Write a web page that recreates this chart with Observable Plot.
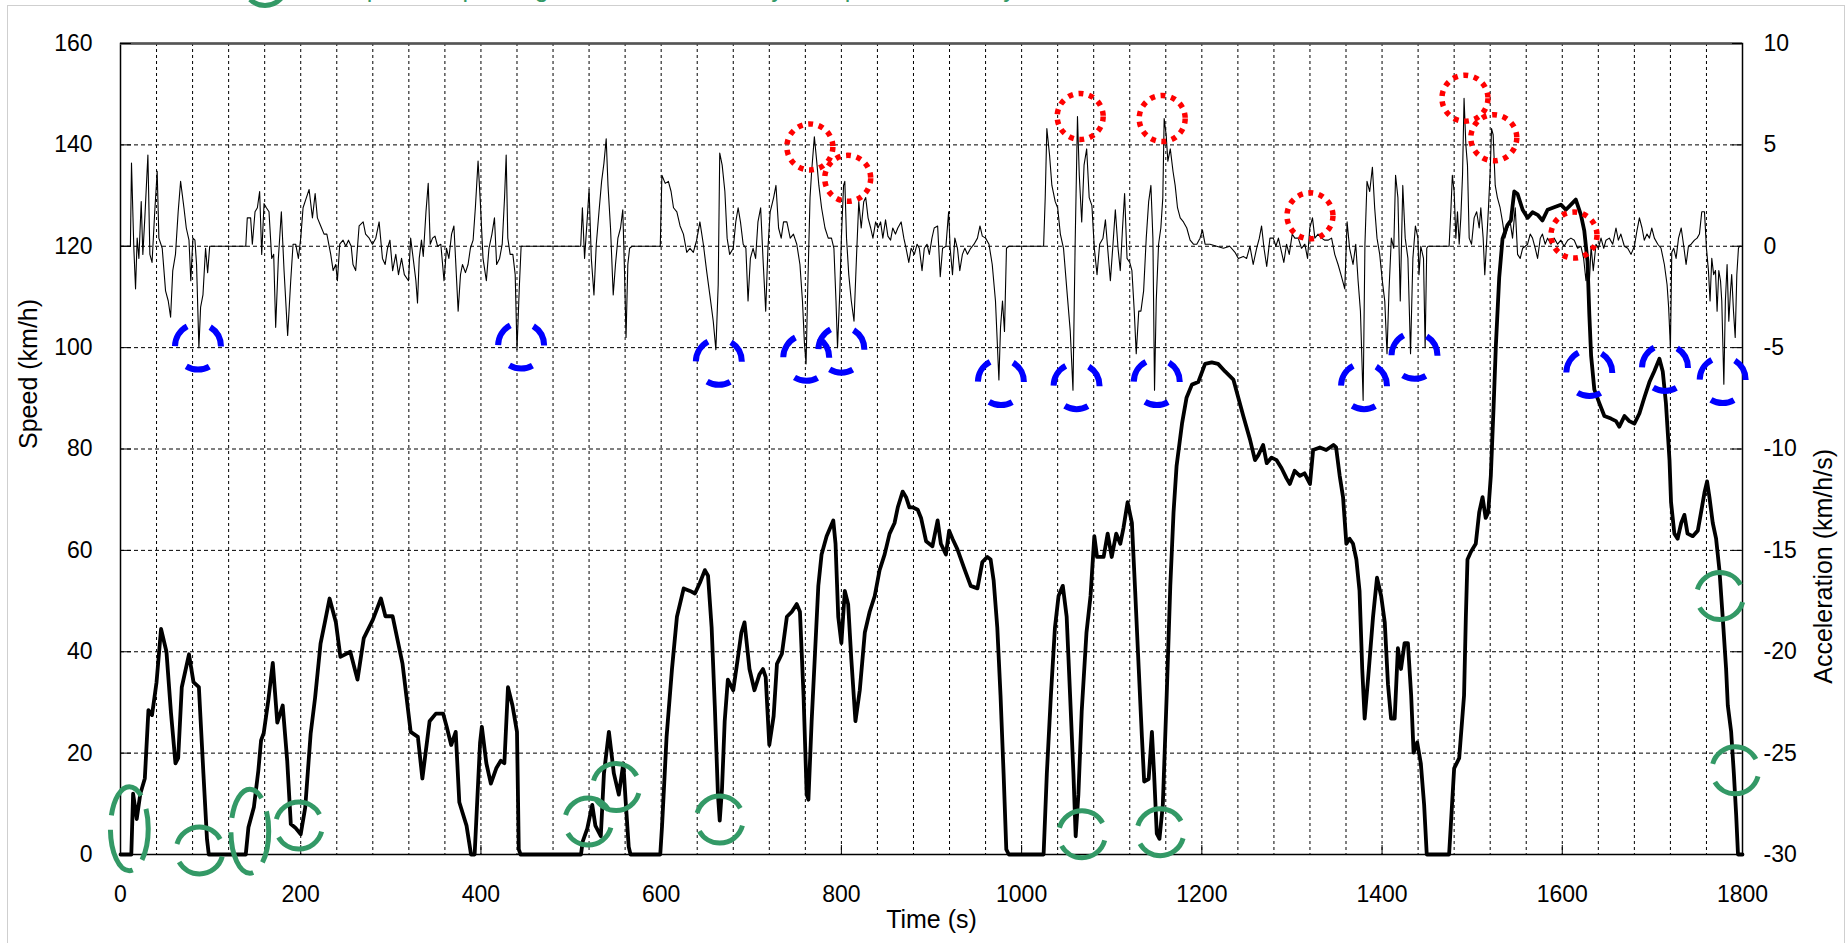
<!DOCTYPE html>
<html><head><meta charset="utf-8">
<script src="https://cdn.jsdelivr.net/npm/d3@7"></script>
<script src="https://cdn.jsdelivr.net/npm/@observablehq/plot@0.6"></script>
<style>
html,body{margin:0;padding:0;background:#fff;overflow:hidden}
#wrap{position:relative;width:1847px;height:943px;overflow:hidden;font-family:"Liberation Sans",Arial,sans-serif}
#border{position:absolute;left:7px;top:5px;width:1838px;height:1000px;border:1.5px solid #cfcfcf;box-sizing:border-box}
#chart{position:absolute;left:0;top:0}
#head{position:absolute;left:0;top:0;display:block}
</style></head><body>
<div id="wrap"><div id="border"></div><div id="chart"></div>
<svg id="head" width="1847" height="24"></svg></div>
<script>
// ---- data ----
const timeTicks = [0, 200, 400, 600, 800, 1000, 1200, 1400, 1600, 1800];
const speedTicks = [0, 20, 40, 60, 80, 100, 120, 140, 160];
const accTicks = [-30, -25, -20, -15, -10, -5, 0, 5, 10];
const xTitle = "Time (s)";
const yTitle = "Speed (km/h)";
const y2Title = "Acceleration (km/h/s)";
const headText = "Low-speed stop-and-go events identified by the speed trace only";

// speed trace [time s, speed km/h]
const speedPoints = [[0,0],[12,0],[14,12],[18,7],[22,12],[27,15],[31,28.5],[35,27.5],[40,34],[45,44.5],[51,40],[56,28],[61,18],[64,19],[68,33],[76,39.5],[81,34],[87,33],[92,16],[96,3],[98,0],
[139,0],[142,5.4],[148,9.3],[153,16.6],[156,22.5],[159,24],[164,30.4],[169,37.8],[174,26],[180,29.4],[185,18.5],[189,6],[194,5.3],[200,4],[205,9.3],[211,23.8],[216,31],[222,41.6],[227,46],[232,50.5],[239,45.8],[244,39],[255,40],[263,34.5],[270,42.7],[280,46.3],[289,50.5],[294,47],[302,47],[313,37.6],[322,24.2],[330,23.2],[335,15],[343,26.3],[350,27.8],[358,27.8],[362,25.2],[367,21.6],[372,24.2],[376,10.3],[384,5.7],[389,0],[393,0],[399,22],[401,25.2],[406,18],[411,14],[417,17],[422,18.5],[426,18],[430,33],[435,29.4],[440,24.2],[442,1],[444,0],
[511,0],[513,2.6],[518,5.1],[523.5,9.8],[527,5.7],[533,3.6],[536.5,16],[542,24.2],[547.5,16],[553,11.8],[558,18],[560.5,10.8],[564,1.5],[566,0],
[599,0],[601,5.7],[606,23.2],[612,36.6],[617.5,46.9],[625,52.5],[632,52],[637.5,51.5],[643,53.6],[648.5,56.1],[652,55],[656,44.8],[659.5,29.4],[663,11.8],[665,6.7],[667.5,12.9],[670.5,26.3],[674,34.5],[680,32.4],[685,38.6],[689,43.8],[692.5,45.8],[698,36.6],[703.5,32.4],[709,35.5],[713,36.6],[716,35],[720,21.6],
[724.8,27.3],[728.5,37.6],[734,39.6],[739.5,46.9],[745,47.9],[750.5,49.4],[754,47.9],[758,31.4],[761.5,11.8],[763.4,10.8],[767,26.3],[770.7,39.6],[774.4,53],[778,59.2],[783.6,62.8],[791,65.9],[793.5,61.3],[796.5,46.9],[800,41.7],[803.8,52],[807.5,49.4],[811,38.6],[815.6,26.3],[820.4,32.4],[826,43.8],[831.4,47.9],[837,51],[842.4,56.1],[848,59.2],[853.5,63.3],[859,65.4],[862.6,68.5],[868,71.6],[871.8,70.5],[875.5,68.5],[879,68.5],[884.7,68],[888.4,66.4],[894,61.8],[901,60.8],[906.8,65.9],[910.4,61.3],[916,59.2],[919.6,63.9],[923.3,62.3],[928.8,60.2],[936,56.6],[943.5,53],[951,52.5],[956.4,57.7],[962,58.7],[965.6,58.2],[969,54],[973,44.8],[976.6,31.4],[980,16],[983,1],[985.8,0],
[1024.4,0],[1028,16],[1032.5,31.4],[1037,44.8],[1041,51],[1045.7,53],[1050,46.9],[1053.8,31.4],[1057.5,16],[1060,3.6],[1063,11.8],[1066.7,28.3],[1072,43.8],[1076.5,51],[1080.7,62.8],[1083.7,58.7],[1091,58.7],[1095.5,63.3],[1100,58.7],[1105,63.3],[1109.5,61.3],[1113,64.4],[1117.6,69.5],[1122.4,65.4],[1126,52],[1130,36.6],[1133.5,23.2],[1136,14.4],[1141,14.9],[1144.6,24.2],[1147,16],[1150,4.1],[1153,3.1],[1156.7,9.8],[1161,31.4],[1165,53],[1168.6,67.5],[1172,76.7],[1178,85],[1183,90.1],[1189,92.7],[1196,93.2],[1203.6,96.8],[1211,97.1],[1218,96.8],[1225.8,95.3],[1235,93.7],[1240.5,90.1],[1246,86.5],[1253.4,81.9],[1259,77.8],[1262.7,78.8],[1268,80.8],[1272,77.2],[1277.4,78.3],[1283,77.8],[1288.5,76.2],[1294,74.2],[1297.7,73.1],[1303,75.7],[1308.8,74.7],[1314,75.2],[1320,73.1],[1323.5,79.8],[1331,80.3],[1338,79.8],[1346,80.8],[1349,80.3],[1353,74.7],[1356.7,70.5],[1360.4,61.3],[1364,62.3],[1367.8,61.3],[1371.5,58.2],[1375,52],[1378,36.6],[1380.7,26.8],[1384.4,34.5],[1390,46.9],[1394.4,54.6],[1399,51],[1403,45.8],[1406.6,33.5],[1410,26.8],[1414,26.8],[1417.6,40.7],[1421,36.6],[1425,41.7],[1428.7,41.7],[1432.3,31.4],[1435,20.1],[1439,22.1],[1443,18],[1446.7,9.8],[1449.6,0],
[1474.4,0],[1476.3,5.7],[1480,17],[1485.6,19],[1491,31.4],[1493,46.9],[1494.8,58.2],[1498.5,59.7],[1504,61.3],[1507.8,67.5],[1511.5,70.5],[1515,66.4],[1517.8,67.5],[1520.7,74.7],[1523.7,88],[1526.3,100.4],[1530,113.8],[1533.7,121.5],[1539,124.1],[1543,125.1],[1546.7,130.8],[1550.4,130.3],[1556,127.2],[1561.5,125.6],[1567,126.7],[1572.6,126.2],[1578,125.1],[1583.7,127.2],[1591,127.7],[1598.5,128.2],[1604,127.2],[1609.6,128.2],[1615,129.2],[1620.7,126.2],[1624.4,123.1],[1628,117],[1630,106.6],[1632,98.4],[1635.6,91.7],[1641,89.1],[1646.7,86.5],[1654,86],[1659.6,85.5],[1663.3,84.4],[1669,86.5],[1674.4,85.5],[1680,85],[1685.6,87],[1691,90.1],[1696.7,93.2],[1702,95.3],[1707.8,97.8],[1711.5,95.3],[1715,89.1],[1719,77.8],[1720.7,69.5],[1724.4,63.3],[1728,62.3],[1732,65.4],[1735.5,67],[1739,63.3],[1744.8,62.8],[1750.4,63.9],[1754,67.5],[1758,71.6],[1760.7,73.6],[1763.3,70.5],[1767,65.4],[1770.7,62.3],[1774.4,56.1],[1778,46.9],[1781.8,36.6],[1783.7,29.4],[1787.4,24.2],[1790.4,16],[1793,7.7],[1795,0],[1800,0]];

// acceleration trace [time s, km/h/s]
const accPoints = [[0,0],[11,0],[12.2,4.1],[14.8,-0.1],[16.7,-2.1],[18.5,0.4],[20.4,-0.6],[23,2.2],[24.8,-0.4],[27,1.4],[30.4,4.5],[32.6,-0.4],[35,-0.8],[38,1.7],[40.7,3.7],[42.6,0.4],[46.3,-0.1],[50,-2.2],[53,-2.7],[55.6,-3.5],[58,-1.2],[61,-0.4],[64,1.7],[66.7,3.2],[70.4,1.9],[73,0.9],[76,0.3],[78,-1.7],[80.4,0.4],[82.6,0.3],[84.4,-0.9],[87,-5.0],[88.9,-3.0],[91.5,-2.4],[94.4,-0.1],[96.7,-1.3],[99,0],
[139,0],[140.7,1.4],[144.4,1.4],[146.3,0.1],[149.3,1.7],[151.9,1.9],[154.4,2.7],[156.7,-0.4],[159.3,2.1],[161.9,1.9],[164.8,1.7],[167.8,-0.6],[170,-0.4],[172.2,-4.0],[175.2,-0.6],[178.5,1.7],[181.5,-1.2],[185.5,-4.4],[188.9,-1.7],[191.5,0.1],[194.4,0.1],[197.4,-0.6],[200,0.4],[202.6,1.9],[206.3,2.4],[209.3,2.8],[213,1.4],[216,2.6],[218.5,1.4],[222.2,1.0],[225.9,0.6],[229,0.6],[233.3,-0.4],[236,-1.2],[238.9,-0.9],[240.7,-1.7],[243.3,0.1],[247,0.3],[250,0],[253,0.3],[256,0],[258,-0.9],[261,-1.2],[264.8,1.0],[269.3,1.2],[272,0.6],[276,0.4],[279.6,0.1],[283.3,0.4],[287,1.2],[290.7,-0.6],[293.7,-0.9],[296.3,-0.1],[299,0.3],[302,-1.2],[305.5,-0.4],[308.5,-1.4],[311.9,-0.6],[315,-1.4],[319.6,-1.7],[322,0.4],[324.8,-0.6],[327.8,-1.7],[329.6,-2.8],[331.5,-0.6],[334,0.3],[336,-0.5],[339,1.7],[341.5,3.1],[343.7,0.1],[346.3,0.4],[349,0.5],[351.9,0],[355.5,0.1],[359,-1.7],[361.8,-0.1],[364.4,-0.6],[367.4,0.6],[370,1.0],[371.8,-0.6],[374.7,-3.2],[377.3,-1.4],[379.5,-0.9],[382.8,-1.3],[385.7,-0.9],[388.3,-0.1],[391.3,0.3],[393.8,1.9],[396.8,4.2],[399.3,2.2],[402.3,-0.6],[406,-1.7],[408.9,-0.1],[412.2,0.6],[415,1.4],[417.4,-0.9],[420.7,-0.6],[423.6,0.1],[426.2,2.4],[428,4.5],[429.8,0.4],[432.4,-0.4],[435.4,-0.4],[438,-1.4],[440,-5.1],[442.7,-1.9],[444.6,0],
[510.7,0],[512.6,1.9],[515,-0.6],[518,1.4],[520,2.8],[522.5,-0.6],[525.4,-2.4],[528,0.1],[531,1.7],[533.9,3.2],[536.5,4.1],[539,5.3],[541,3.0],[543.8,0.9],[546.8,-2.4],[549.3,-0.9],[552,0.4],[554.9,0.9],[557.4,1.8],[559.3,-1.2],[561,-4.5],[563,-0.9],[565,-0.1],[567.7,0],
[599,0],[600.8,3.5],[604.5,3.1],[608,3.2],[611,2.7],[613.7,1.9],[617.4,1.7],[621,1.0],[624.7,0.6],[628.4,-0.3],[632,-0.1],[635.7,-0.3],[639.4,0.3],[643,1.2],[646.8,0.1],[650.4,-1.2],[654,-2.4],[657.8,-3.7],[660.7,-5.1],[663.3,-1.9],[665,4.6],[667.7,4.0],[670.7,2.7],[673.2,0.4],[676,-0.4],[680,-0.1],[682.8,1.2],[685.4,1.9],[688,1.2],[691,0.1],[694,-0.1],[696.4,-2.7],[699,-0.6],[702,-0.1],[704.8,-0.6],[707.4,1.2],[710.4,1.9],[713,-0.6],[716,-3.2],[718.5,-0.1],[721,1.7],[724.8,2.4],[727.4,3.0],[730.3,0.9],[733.2,0.4],[735.8,1.2],[739.5,1.2],[743.2,0.4],[746.8,0.6],[750.5,0.1],[754,-0.9],[756.8,-2.7],[759,-4.8],[760.8,-5.8],[762.6,-2.2],[765.2,2.4],[767,3.7],[770,5.4],[772.6,4.2],[775,3.0],[778,1.9],[781.8,0.9],[785.4,0.4],[789,0.4],[791.7,-0.1],[794,-2.7],[795.7,-5.0],[798.3,-2.2],[800,0.4],[802.4,3.0],[803.8,3.2],[805.7,0.4],[808.2,-1.4],[811,-2.7],[814,-3.7],[816.7,-0.6],[819.3,2.2],[822,0.9],[824.8,2.2],[827,2.4],[829.6,1.4],[832.5,0.9],[835,0.4],[838,1.2],[840.6,0.9],[843.5,1.2],[846,0.4],[849,1.3],[851.6,0.5],[854.6,0.3],[857,0.9],[860,0.6],[862.6,0.9],[866.3,1.2],[869.3,0.4],[871.8,-0.1],[874.8,-0.8],[877.4,-0.1],[881,-0.4],[884,0.1],[886.5,-0.1],[889.5,-1.2],[892,-0.1],[895,0.1],[897.6,-0.4],[900.5,0.4],[903,0.9],[906.8,1.0],[909.7,-1.5],[912.3,-0.1],[916,0],[919,1.7],[920.7,-0.1],[923.3,-1.4],[925.9,0.4],[928.8,-0.1],[931.4,-1.2],[934.3,-0.4],[937,-0.1],[939.9,-0.4],[943.5,-0.1],[947.2,0.1],[951,0.4],[953.8,1.0],[956.4,0.5],[960,0.4],[963.8,0.1],[967.4,-0.9],[971,-2.7],[974.8,-6.6],[976.6,-4.0],[978.8,-2.7],[981,-4.2],[983.2,-0.1],[985.8,0],
[1024.4,0],[1026.2,2.4],[1028,5.8],[1031,4.5],[1033.6,3.0],[1037.3,2.2],[1040,1.9],[1043,0.6],[1046.5,-0.1],[1050.3,-2.2],[1054,-4.2],[1057,-7.1],[1059.4,0.1],[1062,6.4],[1064,3.5],[1066.7,1.2],[1069.3,4.0],[1072.2,4.8],[1075,2.4],[1078,2.0],[1080.7,-0.1],[1083.7,-1.4],[1086.6,0.1],[1090.3,0.4],[1093,1.3],[1095.5,-0.1],[1098.5,-1.7],[1101.4,0.1],[1104,1.8],[1107,-0.1],[1109.5,-1.2],[1112,0.9],[1114.3,2.6],[1117,-0.6],[1120,-0.8],[1122.4,-1.2],[1125,-3.2],[1127.2,-5.3],[1130,-3.2],[1132.4,-3.2],[1135.4,-2.2],[1138.3,0.4],[1141,2.2],[1143.5,3.0],[1145.7,0.4],[1147.5,-7.1],[1149.4,-2.7],[1152,0.1],[1154.5,0.9],[1156.7,2.4],[1158.2,6.3],[1160.4,5.5],[1162.3,4.2],[1165,4.8],[1168,3.7],[1170.4,3.0],[1173,1.9],[1176,1.4],[1179.6,1.2],[1183.3,0.9],[1187,0.3],[1190.7,0.1],[1194.4,0.1],[1198,0.4],[1200.7,0.8],[1203.6,0.1],[1209,0.1],[1216.5,0],[1224,-0.1],[1231,0],[1236.8,-0.3],[1240.5,-0.6],[1246,-0.5],[1249.7,-0.6],[1253.4,0],[1257,-0.9],[1260.8,-0.1],[1263.8,0.4],[1266.3,1.0],[1269,-0.1],[1272,-1.0],[1275.6,0.4],[1279.3,0.4],[1282.2,0],[1285,0.4],[1288.5,-0.3],[1291,-0.8],[1294,0.1],[1297,-0.4],[1300.3,0.6],[1303.2,0.4],[1307,0.4],[1310.6,-0.1],[1314.3,0.1],[1317.3,-0.6],[1319.8,0.9],[1322.8,1.4],[1325.4,0.4],[1329,0.6],[1332.8,0.4],[1336.5,0.3],[1340,0.3],[1344,0.4],[1347.5,-0.4],[1351.2,-0.9],[1355,-1.5],[1358.6,-2.1],[1361.2,1.2],[1364,-0.1],[1367.8,-0.9],[1370.8,0.1],[1373.4,-1.7],[1376,-3.2],[1379,-7.6],[1381,0.1],[1383.3,3.2],[1386.3,2.7],[1389.3,3.9],[1391.8,1.9],[1394.4,0.4],[1397.4,-0.4],[1400.3,-1.7],[1403,-2.7],[1405.5,-5.3],[1407.7,-2.2],[1410.3,0.4],[1413,-0.1],[1415,3.5],[1417.6,2.4],[1420.2,-2.7],[1423,3.0],[1425.7,0.4],[1428.7,-0.6],[1431.6,-5.3],[1434.2,-0.6],[1437,1.0],[1439.8,0.4],[1441,-1.4],[1443,0],[1446,-0.6],[1447.8,-5.0],[1449.6,-0.1],[1451,0],
[1474.4,0],[1476.3,1.7],[1478,3.5],[1480,2.7],[1481.9,0.4],[1483.7,1.7],[1485.6,0.1],[1487.4,1.4],[1489.3,3.5],[1491,7.3],[1493,5.0],[1494.8,4.0],[1496.7,0.4],[1499.3,0.1],[1502.2,1.4],[1505,1.7],[1507.8,0.9],[1509.6,1.9],[1512.2,0.4],[1514,-1.4],[1516.3,0.4],[1518.1,1.9],[1520,3.7],[1521.5,5.8],[1523.3,5.5],[1525.6,3.0],[1528,2.4],[1531,1.9],[1533.7,1.2],[1536.3,0.4],[1539.3,0.9],[1542.2,1.2],[1544.8,0.4],[1547.8,1.9],[1550.4,-0.4],[1553.3,-0.6],[1556,-0.1],[1558.9,0],[1561.5,0.1],[1564.4,0.6],[1567,0.4],[1570,-0.1],[1572.6,-0.6],[1575.6,0.4],[1578,0.6],[1581,0.1],[1583.7,0.4],[1587.4,0.1],[1591,0.4],[1594.8,0.1],[1598.5,0.3],[1602,0],[1606,0.3],[1609.6,0.4],[1613.3,0.3],[1617,-0.1],[1620.7,0],[1623.7,-0.6],[1626.3,-1.7],[1628,-0.6],[1630,-1.8],[1632,0],[1634.4,-1.2],[1637.4,0.1],[1640,-0.1],[1643,0.4],[1646,-0.1],[1648.5,0.3],[1652.2,0.4],[1656,0.1],[1659.6,0.9],[1662.2,0.3],[1665,0.6],[1668.9,0],[1672.6,-0.1],[1676.3,-0.4],[1680,0],[1683,0.8],[1685.6,1.4],[1688.5,0.9],[1691,0.3],[1694,0.6],[1696.7,0.4],[1699.3,0.9],[1702.2,0.4],[1706,0.1],[1709.6,-0.1],[1713.3,-0.9],[1716.3,-1.9],[1718,-3.0],[1720,-5.0],[1721.5,-0.3],[1723.7,-0.1],[1726.3,-0.6],[1729,0.4],[1732,0.9],[1734.8,0],[1737.4,-0.9],[1740,0],[1743,0.1],[1746.7,0.3],[1749.6,0.4],[1752.2,0.6],[1754.8,1.7],[1757.8,1.7],[1760,-0.1],[1762.2,-1.2],[1764,-2.7],[1765.9,-0.6],[1768,-1.4],[1770,-1.2],[1771.8,-3.2],[1773.7,-1.2],[1775.6,-1.7],[1777,-2.7],[1779.3,-6.8],[1781,-2.7],[1782.9,-0.9],[1784.8,-3.7],[1786.7,-2.2],[1788,-1.4],[1790,-3.2],[1791.9,-4.5],[1793.7,-1.4],[1795.5,-0.1],[1796.7,0],[1800,0]];

// annotation rings: [time s, acceleration km/h/s]
const blueMarks = [[86,-4.95],[444.6,-4.9],[664,-5.7],[761,-5.5],[800,-5.1],[977,-6.7],[1061,-6.9],[1150,-6.7],[1380,-6.9],[1436,-5.4],[1630,-6.25],[1714,-6.0],[1778,-6.6]];
const redMarks = [[765,4.9],[807,3.35],[1065,6.4],[1156,6.3],[1320,1.5],[1492,7.3],[1524,5.35],[1613,0.55]];
// annotation rings: [time s, speed km/h]
const greenMarks = [[87.7,0.8],[198,5.7],[519,6.5],[550,13.3],[665,6.9],[1067,4],[1154,4.4],[1775,51],[1792,16.6]];
const greenTallMarks = [[9.8,5.1],[143.5,4.6]];

// ---- build ----
const accToY = a => 120 + 4 * a;        // right axis mapped onto left scale
const yToAcc = v => (v - 120) / 4;
const speedRows = speedPoints.map(([t, v]) => ({t, v}));
const accRows = accPoints.map(([t, a]) => ({t, a}));
const blueRows = blueMarks.map(([t, a]) => ({t, a}));
const redRows = redMarks.map(([t, a]) => ({t, a}));
const greenRows = greenMarks.map(([t, v]) => ({t, v}));
const greenTallRows = greenTallMarks.map(([t, v]) => ({t, v}));

const tallEllipse = {
  draw(ctx, size) {
    const r = Math.sqrt(size / Math.PI), a = r * 0.45, b = r, k = 0.5523;
    ctx.moveTo(a, 0);
    ctx.bezierCurveTo(a, k * b, k * a, b, 0, b);
    ctx.bezierCurveTo(-k * a, b, -a, k * b, -a, 0);
    ctx.bezierCurveTo(-a, -k * b, -k * a, -b, 0, -b);
    ctx.bezierCurveTo(k * a, -b, a, -k * b, a, 0);
    ctx.closePath();
  }
};

const FONT = '"Liberation Sans", Arial, Helvetica, sans-serif';
const GREEN = "#339966";

const chart = Plot.plot({
  width: 1847, height: 943,
  marginLeft: 120, marginRight: 105, marginTop: 43, marginBottom: 89,
  style: {fontFamily: FONT, background: "transparent", color: "black", overflow: "visible"},
  x: {domain: [0, 1800]},
  y: {domain: [0, 160]},
  marks: [
    Plot.gridX(d3.range(40, 1800, 40), {stroke: "black", strokeOpacity: 1, strokeWidth: 1, strokeDasharray: "3,3"}),
    Plot.gridY(speedTicks.slice(1, -1), {stroke: "black", strokeOpacity: 1, strokeWidth: 1, strokeDasharray: "4,3"}),
    Plot.line(accRows, {x: "t", y: d => accToY(d.a), stroke: "black", strokeWidth: 1.1}),
    Plot.line(speedRows, {x: "t", y: "v", stroke: "black", strokeWidth: 3.8, strokeLinejoin: "round"}),
    Plot.frame({stroke: "black", strokeWidth: 1.5}),
    Plot.ruleY([160], {stroke: "#555", strokeWidth: 2.5}),
    Plot.axisY(speedTicks, {anchor: "left", tickSize: -11, tickPadding: 39, fontSize: 23, label: null, tickFormat: d => String(d)}),
    Plot.axisY(accTicks.map(accToY), {anchor: "right", tickSize: -11, tickPadding: 32, fontSize: 23, label: null, tickFormat: v => String(yToAcc(v))}),
    Plot.axisX(timeTicks, {anchor: "bottom", tickSize: -9, tickPadding: 40, fontSize: 23, label: null, tickFormat: d => String(d)}),
    Plot.text([xTitle], {frameAnchor: "bottom", dy: 73, fontSize: 25, text: d => d}),
    Plot.text([yTitle], {frameAnchor: "left", dx: -92, rotate: -90, fontSize: 25, text: d => d}),
    Plot.text([y2Title], {frameAnchor: "right", dx: 81, rotate: -90, fontSize: 25, text: d => d}),
    Plot.dot(blueRows, {x: "t", y: d => accToY(d.a), r: 23, fill: "none", stroke: "#0000ff", strokeWidth: 6, strokeDasharray: "24.1,24.1", strokeDashoffset: 24.1}),
    Plot.dot(redRows, {x: "t", y: d => accToY(d.a), r: 23, fill: "none", stroke: "#ff0000", strokeWidth: 5.5, strokeDasharray: "5,5.6"}),
    Plot.dot(greenRows, {x: "t", y: "v", r: 23.5, fill: "none", stroke: GREEN, strokeWidth: 5, strokeDasharray: "55,18.8", strokeDashoffset: 67.6}),
    Plot.dot(greenTallRows, {x: "t", y: "v", r: 42, symbol: tallEllipse, fill: "none", stroke: GREEN, strokeWidth: 5, strokeDasharray: "52,14", strokeDashoffset: 20})
  ]
});
document.getElementById("chart").appendChild(chart);

// clipped green header (only its lower edge shows in the reference)
const head = d3.select("#head");
head.append("circle").attr("cx", 265).attr("cy", -16).attr("r", 21.5)
  .attr("fill", "none").attr("stroke", GREEN).attr("stroke-width", 5).attr("stroke-dasharray", "50,17");
head.append("text").attr("x", 300).attr("y", -3).attr("fill", GREEN)
  .attr("font-family", FONT).attr("font-size", 25).text(headText);
</script>
</body></html>
